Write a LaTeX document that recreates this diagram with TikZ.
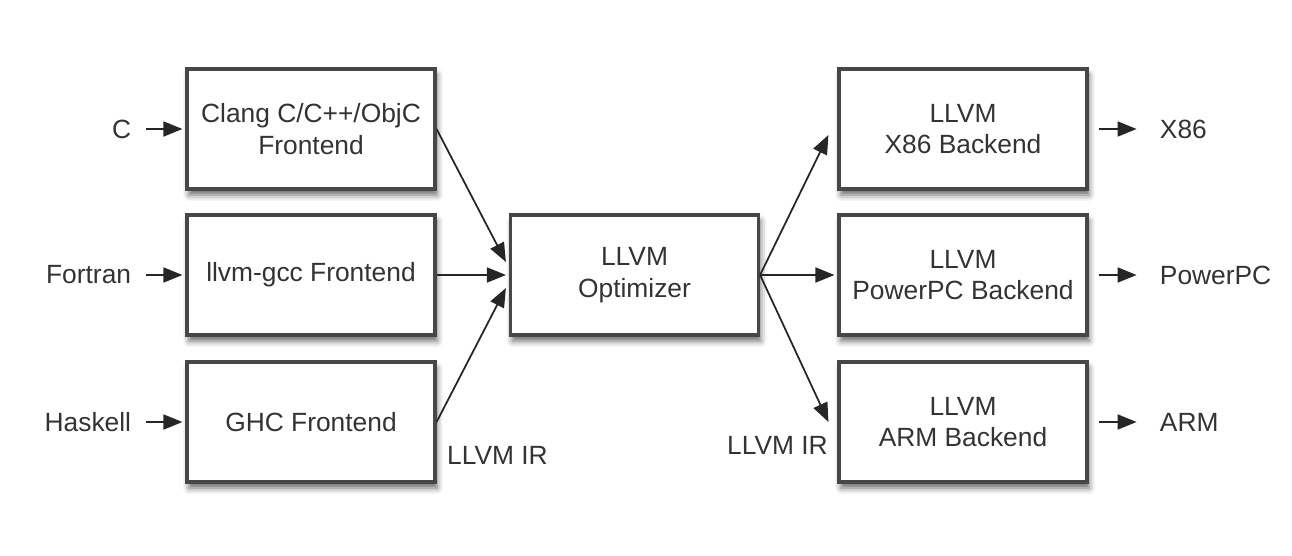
\documentclass[tikz,border=0pt]{standalone}
\usepackage{fontspec}
\setmainfont{Liberation Sans}
\usetikzlibrary{arrows.meta, positioning, shadows.blur}

\begin{document}
\begin{tikzpicture}[font=\fontsize{15}{18}\selectfont,
    box/.style={draw=black!72, line width=1.8pt, fill=white, text=black!80,
      minimum width=4.96cm, minimum height=2.4cm, align=center,
      blur shadow={shadow xshift=0.04cm, shadow yshift=-0.12cm, shadow blur radius=0.12cm, shadow opacity=60}},
    arr/.style={black!85, line width=1pt, -{Triangle[length=0.38cm, width=0.3cm]}},
    lbl/.style={text=black!80, inner sep=0.3cm}
  ]
    \useasboundingbox (0,0) rectangle (25.84,11.1);

    % frontends, optimizer, backends
    \node[box] (clang) at (6.22,8.52) {Clang C/C++/ObjC\\Frontend};
    \node[box] (gcc) at (6.22,5.6) {llvm-gcc Frontend};
    \node[box] (ghc) at (6.22,2.66) {GHC Frontend};
    \node[box] (opt) at (12.69,5.6) {LLVM\\Optimizer};
    \node[box] (x86) at (19.26,8.52) {LLVM\\X86 Backend};
    \node[box] (ppc) at (19.26,5.6) {LLVM\\PowerPC Backend};
    \node[box] (arm) at (19.26,2.66) {LLVM\\ARM Backend};

    % languages in, targets out
    \node[lbl, left=0.78cm of clang] (cin) {C};
    \node[lbl, left=0.78cm of gcc] (fortran) {Fortran};
    \node[lbl, left=0.78cm of ghc] (haskell) {Haskell};
    \node[lbl, right=1.12cm of x86] (xout) {X86};
    \node[lbl, right=1.12cm of ppc] (pout) {PowerPC};
    \node[lbl, right=1.12cm of arm] (aout) {ARM};

    \node[text=black!80] (irl) at (9.95,2.0) {LLVM IR};
    \node[text=black!80] (irr) at (15.55,2.2) {LLVM IR};

    \draw[arr, shorten >=0.06cm] (cin) -- (clang);
    \draw[arr, shorten >=0.06cm] (fortran) -- (gcc);
    \draw[arr, shorten >=0.06cm] (haskell) -- (ghc);

    \draw[arr] (clang.east) -- ([yshift=0.26cm, xshift=-0.06cm]opt.west);
    \draw[arr] (gcc.east) -- ([xshift=-0.06cm]opt.west);
    \draw[arr] (ghc.east) -- ([yshift=-0.26cm, xshift=-0.06cm]opt.west);

    \draw[arr] (opt.east) -- ([yshift=-0.12cm, xshift=-0.18cm]x86.west);
    \draw[arr] (opt.east) -- ([xshift=-0.06cm]ppc.west);
    \draw[arr] (opt.east) -- ([xshift=-0.18cm]arm.west);

    \draw[arr, shorten <=0.2cm, shorten >=0.16cm] (x86) -- (xout);
    \draw[arr, shorten <=0.2cm, shorten >=0.16cm] (ppc) -- (pout);
    \draw[arr, shorten <=0.2cm, shorten >=0.16cm] (arm) -- (aout);
\end{tikzpicture}
\end{document}
